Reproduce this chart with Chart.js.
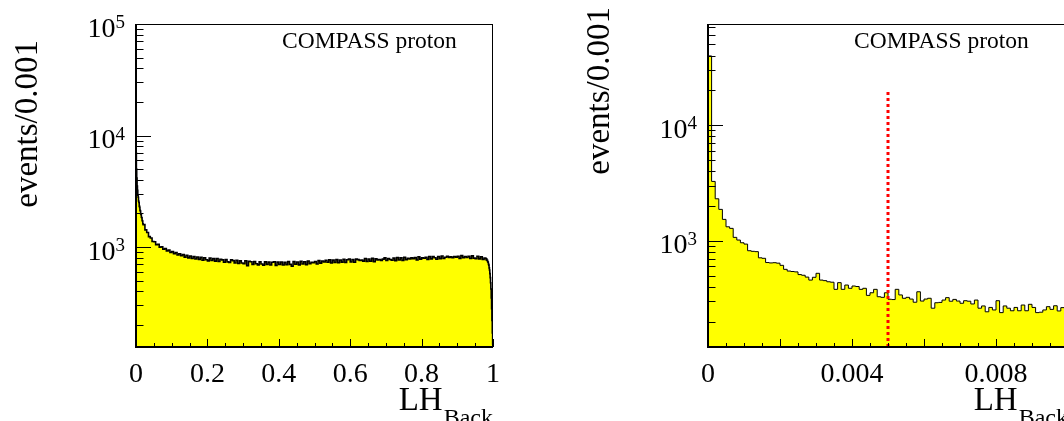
<!DOCTYPE html>
<html><head><meta charset="utf-8">
<script src="https://cdn.jsdelivr.net/npm/chart.js@4.4.1/dist/chart.umd.min.js"></script>
<style>
html,body{margin:0;padding:0;background:#fff;overflow:hidden;width:1064px;height:421px;}
#c1{position:absolute;left:0;top:0;width:560px;height:421px;}
#c2{position:absolute;left:560px;top:0;width:600px;height:421px;}
</style></head><body>
<canvas id="c1" width="560" height="421"></canvas>
<canvas id="c2" width="600" height="421"></canvas>
<script>
// ---------- DATA ----------
// Left panel: LH_Back over [0,1]
const leftFineStart = 0.0, leftFineWidth = 0.001;      // bins 0 - 0.02
const leftFineCounts = [7000, 5000, 4150, 3520, 3230, 2920, 2800, 2590, 2510, 2330,
  2270, 2140, 2100, 1980, 1950, 1850, 1830, 1730, 1710, 1620];
const leftMidStart = 0.02, leftMidWidth = 0.005;       // bins 0.02 - 0.98
const leftMidCounts = [
  1590, 1425, 1350, 1240, 1205, 1120, 1115, 1048, 1060, 995,
  1005, 955, 972, 925, 941, 893, 912, 870, 893, 848,
  871, 835, 855, 812, 843, 800, 832, 790, 820, 781,
  815, 776, 808, 762, 801, 770, 752, 796, 758, 788,
  748, 789, 741, 778, 768, 730, 772, 737, 726, 768,
  756, 720, 762, 713, 752, 719, 709, 754, 682, 746,
  739, 700, 743, 708, 692, 739, 704, 688, 737, 699,
  733, 691, 730, 738, 685, 732, 698, 735, 690, 729,
  695, 740, 700, 672, 742, 702, 734, 692, 745, 705,
  738, 696, 749, 708, 729, 724, 741, 705, 756, 717,
  750, 735, 761, 730, 767, 720, 763, 727, 772, 723,
  766, 732, 777, 727, 770, 782, 735, 774, 730, 779,
  771, 757, 764, 748, 789, 741, 782, 746, 792, 738,
  783, 767, 774, 760, 780, 799, 757, 790, 774, 762,
  796, 756, 805, 765, 800, 759, 809, 769, 791, 784,
  800, 787, 804, 765, 818, 779, 799, 794, 810, 775,
  824, 784, 820, 801, 778, 823, 787, 832, 791, 810,
  828, 808, 817, 803, 823, 812, 826, 792, 837, 801,
  822, 807, 827, 790, 833, 796, 786, 826, 783, 819,
  775, 795];
const leftEndStart = 0.98, leftEndWidth = 0.001;       // bins 0.98 - 1.0
const leftEndCounts = [786, 765, 780, 758, 762, 738, 731, 704, 688, 651,
  622, 578, 532, 478, 421, 350, 280, 220, 170, 135];

// Right panel: LH_Back over [0,0.01], bins of 0.0001
const rightStart = 0.0, rightWidth = 0.0001;
const rightCounts = [
  39700, 3260, 2307, 1868, 1531, 1321, 1280, 1070, 1014, 961,
  936, 820, 810, 805, 712, 705, 648, 643, 646, 640,
  613, 566, 547, 542, 538, 510, 503, 485, 457, 483,
  523, 457, 452, 442, 438, 380, 434, 380, 414, 388,
  406, 402, 380, 388, 337, 355, 380, 328, 324, 355,
  312, 310, 380, 340, 318, 324, 313, 294, 362, 301,
  313, 318, 261, 291, 293, 307, 322, 300, 311, 301,
  288, 303, 300, 284, 307, 261, 273, 243, 265, 252,
  303, 239, 273, 261, 248, 265, 248, 278, 248, 282,
  265, 239, 241, 252, 269, 255, 274, 247, 264, 260];
const cutValue = 0.005;          // red dotted cut line
const cutLineTop = 20000;

// Axis ticks / labels
const leftXTickValues = [0, 0.2, 0.4, 0.6, 0.8, 1];
const leftXTickLabels = ['0', '0.2', '0.4', '0.6', '0.8', '1'];
const rightXTickValues = [0, 0.004, 0.008];
const rightXTickLabels = ['0', '0.004', '0.008'];
const leftYDecades = [3, 4, 5];
const rightYDecades = [3, 4];
const yTitle = 'events/0.001';
const xTitleMain = 'LH';
const xTitleSub = 'Back';
const panelLabel = 'COMPASS proton';

// ---------- helpers ----------
function histPoints(segments) {
  const pts = [];
  let last = null;
  for (const s of segments) {
    s.counts.forEach((c, i) => {
      pts.push({x: s.start + i * s.width, y: c});
      last = {x: s.start + (i + 1) * s.width, y: c};
    });
  }
  pts.push(last);
  return pts;
}

const FONT = '"Liberation Serif", "Times New Roman", serif';

function makeFrame(cfg) {
  return {
    id: 'rootFrame' + cfg.name,
    afterDatasetsDraw(chart) {
      const ctx = chart.ctx, a = chart.chartArea;
      const xs = chart.scales.x, ys = chart.scales.y;
      ctx.save();
      ctx.strokeStyle = '#000';
      ctx.fillStyle = '#000';
      ctx.lineWidth = 1;
      ctx.beginPath();
      for (let k = 0; k <= cfg.xMinorN; k++) {
        const v = xs.min + k * cfg.xMinorStep;
        const px = Math.round(xs.getPixelForValue(v)) + 0.5;
        if (px > a.right + 1) break;
        const isMajor = Math.abs((v / cfg.xMajorStep) - Math.round(v / cfg.xMajorStep)) < 1e-6;
        const len = isMajor ? 8 : 4;
        ctx.moveTo(px, a.bottom);
        ctx.lineTo(px, a.bottom - len);
      }
      for (let d = cfg.yDecMin; d <= cfg.yDecMax; d++) {
        for (let m = 1; m <= 9; m++) {
          const v = m * Math.pow(10, d);
          if (v < ys.min || v > ys.max) continue;
          const py = Math.round(ys.getPixelForValue(v)) + 0.5;
          const len = m === 1 ? 15 : 7.5;
          ctx.moveTo(a.left, py);
          ctx.lineTo(a.left + len, py);
        }
      }
      ctx.stroke();
      ctx.lineWidth = 1;
      ctx.beginPath();
      ctx.moveTo(a.left, a.top + 0.5);
      ctx.lineTo(a.right, a.top + 0.5);
      ctx.moveTo(a.right - 0.5, a.top);
      ctx.lineTo(a.right - 0.5, a.bottom);
      ctx.stroke();
      ctx.lineWidth = 2;
      ctx.beginPath();
      ctx.moveTo(a.left, a.top);
      ctx.lineTo(a.left, a.bottom);
      ctx.lineTo(a.right, a.bottom);
      ctx.stroke();

      ctx.font = '28px ' + FONT;
      ctx.textAlign = 'center';
      ctx.textBaseline = 'alphabetic';
      cfg.xTickValues.forEach((v, i) => {
        ctx.fillText(cfg.xTickLabels[i], xs.getPixelForValue(v), a.bottom + 34.5);
      });
      cfg.yDecades.forEach(d => {
        const py = ys.getPixelForValue(Math.pow(10, d));
        const right = a.left - 11;
        ctx.font = '19px ' + FONT;
        const ew = ctx.measureText(String(d)).width;
        ctx.textAlign = 'left';
        ctx.fillText(String(d), right - ew, py + 4);
        ctx.font = '28px ' + FONT;
        ctx.textAlign = 'right';
        ctx.fillText('10', right - ew, py + 12.5);
      });
      ctx.font = '24px ' + FONT;
      const sw = ctx.measureText(xTitleSub).width;
      ctx.textAlign = 'left';
      ctx.fillText(xTitleSub, cfg.xTitleRight - sw, 425);
      ctx.font = '33px ' + FONT;
      ctx.textAlign = 'right';
      ctx.fillText(xTitleMain, cfg.xTitleRight - sw - 1, 410);
      ctx.save();
      ctx.translate(a.left - 99, cfg.yTitleTop);
      ctx.rotate(-Math.PI / 2);
      ctx.font = '33px ' + FONT;
      ctx.textAlign = 'right';
      ctx.fillText(yTitle, 0, 0);
      ctx.restore();
      ctx.font = '23.5px ' + FONT;
      ctx.textAlign = 'left';
      ctx.fillText(panelLabel, a.left + 146, 48.3);
      ctx.restore();
    }
  };
}

function makeChart(id, datasets, xmax, ymin, ymax, padding, frameCfg) {
  return new Chart(document.getElementById(id), {
    type: 'line',
    data: {datasets},
    options: {
      responsive: false,
      animation: false,
      devicePixelRatio: 1,
      layout: {padding},
      plugins: {legend: {display: false}, tooltip: {enabled: false}},
      elements: {point: {radius: 0}},
      scales: {
        x: {type: 'linear', min: 0, max: xmax, display: false},
        y: {type: 'logarithmic', min: ymin, max: ymax, display: false}
      }
    },
    plugins: [makeFrame(frameCfg)]
  });
}

makeChart('c1', [{
  data: histPoints([
    {start: leftFineStart, width: leftFineWidth, counts: leftFineCounts},
    {start: leftMidStart, width: leftMidWidth, counts: leftMidCounts},
    {start: leftEndStart, width: leftEndWidth, counts: leftEndCounts}]),
  stepped: true, borderColor: '#000', borderWidth: 1.6,
  backgroundColor: '#ffff00', fill: 'start', pointRadius: 0
}], 1, 127, 100000, {left: 136, top: 24, right: 67, bottom: 74}, {
  name: 'L', xMinorStep: 0.05, xMajorStep: 0.2, xMinorN: 20,
  yDecMin: 2, yDecMax: 4, yDecades: leftYDecades,
  xTickValues: leftXTickValues, xTickLabels: leftXTickLabels,
  xTitleRight: 493, yTitleTop: 40
});

makeChart('c2', [{
  data: [{x: cutValue, y: 120.5}, {x: cutValue, y: cutLineTop}],
  borderColor: '#ff0000', borderWidth: 3, borderDash: [3, 3],
  fill: false, pointRadius: 0, order: 0
}, {
  data: histPoints([{start: rightStart, width: rightWidth, counts: rightCounts}]),
  stepped: true, borderColor: '#000', borderWidth: 1,
  backgroundColor: '#ffff00', fill: 'start', pointRadius: 0, order: 1
}], 0.01, 120.5, 75000, {left: 148, top: 24, right: 92, bottom: 74}, {
  name: 'R', xMinorStep: 0.0005, xMajorStep: 0.002, xMinorN: 20,
  yDecMin: 2, yDecMax: 4, yDecades: rightYDecades,
  xTickValues: rightXTickValues, xTickLabels: rightXTickLabels,
  xTitleRight: 508, yTitleTop: 7
});
</script>
</body></html>
